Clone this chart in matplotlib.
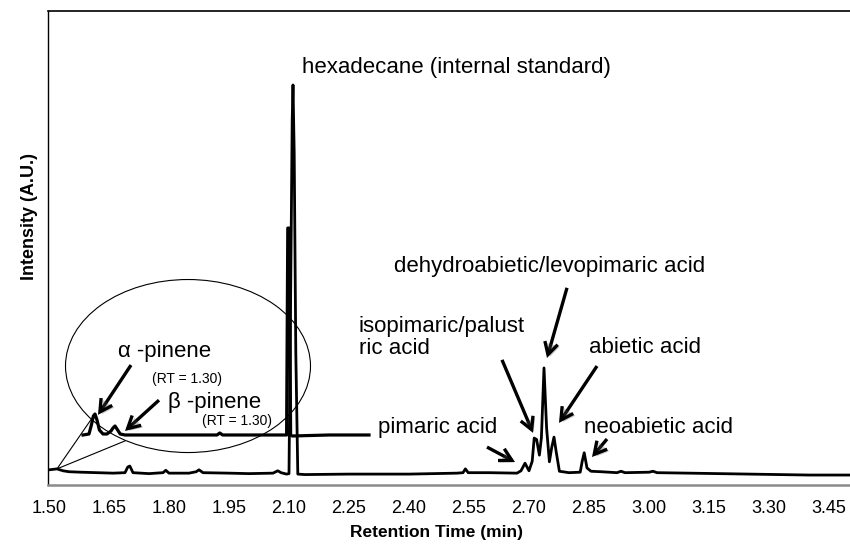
import matplotlib
matplotlib.use('Agg')
import matplotlib.pyplot as plt
import matplotlib.patheffects as pe
from matplotlib.patches import Ellipse

plt.rcParams['font.family'] = ['Liberation Sans', 'DejaVu Sans']

# full chromatogram (retention time in min, intensity in A.U.)
rt_full = [1.500, 1.510, 1.520, 1.535, 1.550, 1.580, 1.620, 1.660, 1.690, 1.697,
           1.702, 1.710, 1.750, 1.785, 1.792, 1.800, 1.850, 1.868, 1.875, 1.885,
           1.950, 2.000, 2.060, 2.072, 2.080, 2.094, 2.100, 2.104, 2.108, 2.110,
           2.113, 2.117, 2.122, 2.140, 2.250, 2.400, 2.520, 2.535, 2.541, 2.548,
           2.600, 2.670, 2.680, 2.690, 2.700, 2.708, 2.713, 2.719, 2.726, 2.731,
           2.7375, 2.744, 2.751, 2.757, 2.7625, 2.768, 2.776, 2.800, 2.828, 2.833,
           2.838, 2.845, 2.855, 2.880, 2.920, 2.930, 2.940, 3.000, 3.010, 3.020,
           3.100, 3.250, 3.400, 3.500]
int_full = [3.2, 3.3, 3.4, 3.0, 2.8, 2.7, 2.6, 2.5, 2.6, 3.8,
            4.0, 2.6, 2.4, 2.6, 3.1, 2.5, 2.5, 2.8, 3.2, 2.6,
            2.5, 2.4, 2.5, 3.0, 2.6, 2.3, 2.4, 39.0, 77.0, 84.4,
            70.0, 28.0, 2.3, 2.2, 2.3, 2.3, 2.5, 2.6, 3.4, 2.6,
            2.6, 2.5, 3.0, 4.6, 3.0, 5.0, 9.9, 9.6, 6.3, 10.0,
            24.7, 12.0, 4.9, 8.0, 10.1, 7.0, 2.9, 2.6, 2.7, 5.0,
            6.8, 3.6, 2.9, 2.8, 2.6, 2.9, 2.6, 2.7, 2.9, 2.6,
            2.5, 2.3, 2.1, 2.1]

# magnified early region (offset trace)
rt_zoom = [1.585, 1.600, 1.606, 1.611, 1.615, 1.620, 1.626, 1.635, 1.645, 1.655,
           1.660, 1.665, 1.670, 1.678, 1.690, 1.800, 1.920, 1.927, 1.934, 2.000,
           2.090, 2.094, 2.097, 2.101, 2.104, 2.108, 2.200, 2.300]
int_zoom = [10.55, 10.76, 12.66, 14.56, 14.98, 13.71, 11.6, 10.76, 10.76, 11.39,
            12.03, 12.45, 11.81, 10.76, 10.55, 10.55, 10.55, 10.97, 10.55, 10.55,
            10.55, 10.55, 54.2, 54.2, 10.55, 10.34, 10.55, 10.55]

xticks = [1.50, 1.65, 1.80, 1.95, 2.10, 2.25, 2.40, 2.55, 2.70, 2.85, 3.00, 3.15, 3.30, 3.45]

fig = plt.figure(figsize=(8.5, 5.45), dpi=100)
ax = fig.add_axes([48 / 850, 60 / 545, 802 / 850, 474 / 545])

ax.plot(rt_full, int_full, color='black', lw=2.0, solid_joinstyle='round')
ax.plot(rt_zoom, int_zoom, color='black', lw=2.3, solid_joinstyle='round')

ax.add_patch(Ellipse((1.8475, 25.1), 0.6125, 36.5, fill=False, lw=0.8, color='black'))
ax.plot([1.6075, 1.52, 1.69], [14.1, 3.4, 9.3], color='black', lw=0.8)

ax.set_xlim(1.4975, 3.5025)
ax.set_ylim(0, 100)
ax.set_xticks(xticks)
ax.set_xticklabels([f'{t:.2f}' for t in xticks], fontsize=13)
ax.set_yticks([])
ax.tick_params(axis='x', length=0, pad=11)
ax.spines['right'].set_visible(False)
ax.spines['left'].set_linewidth(1.0)
ax.spines['top'].set_linewidth(1.2)
ax.spines['bottom'].set_color('#8a8a8a')
ax.spines['bottom'].set_linewidth(1.8)

ax.set_xlabel('Retention Time (min)', fontsize=12.5, fontweight='bold')
ax.xaxis.set_label_coords((436 - 48) / 802, -0.085)
fig.text(29 / 850, 1 - 217 / 545, 'Intensity (A.U.)', rotation=90, fontsize=13,
         fontweight='bold', ha='center', va='center')

big = 16
ax.text(2.1325, 88.0, 'hexadecane (internal standard)', fontsize=big, va='center')
ax.text(1.6725, 28.1, 'α -pinene', fontsize=big, va='center')
ax.text(1.7575, 22.4, '(RT = 1.30)', fontsize=10, va='center')
ax.text(1.7975, 17.5, 'β -pinene', fontsize=big, va='center')
ax.text(1.8825, 13.5, '(RT = 1.30)', fontsize=10, va='center')
ax.text(2.275, 31.1, 'isopimaric/palust\nric acid', fontsize=big, va='center',
        linespacing=1.1)
ax.text(2.3225, 12.2, 'pimaric acid', fontsize=big, va='center')
ax.text(3.14, 46.0, 'dehydroabietic/levopimaric acid', fontsize=big, va='center', ha='right')
ax.text(2.85, 29.1, 'abietic acid', fontsize=big, va='center')
ax.text(2.8375, 12.2, 'neoabietic acid', fontsize=big, va='center')

arrows = [
    ((1.705, 25.3), (1.6225, 14.8)),
    ((1.775, 17.9), (1.69, 11.4)),
    ((2.595, 8.0), (2.665, 4.85)),
    ((2.6325, 26.4), (2.71, 11.0)),
    ((2.795, 41.6), (2.745, 26.8)),
    ((2.87, 25.1), (2.775, 13.1)),
    ((2.895, 9.7), (2.8575, 5.9)),
]
shadow = [pe.SimplePatchShadow(offset=(1.5, -1.5), alpha=0.3), pe.Normal()]
for tail, head in arrows:
    ax.annotate('', xy=head, xytext=tail,
                arrowprops=dict(arrowstyle='->, head_length=0.55, head_width=0.3',
                                color='black', lw=2.4, mutation_scale=16,
                                shrinkA=0, shrinkB=0, capstyle='butt',
                                joinstyle='miter', path_effects=shadow))

fig.savefig('out.png', dpi=100)
